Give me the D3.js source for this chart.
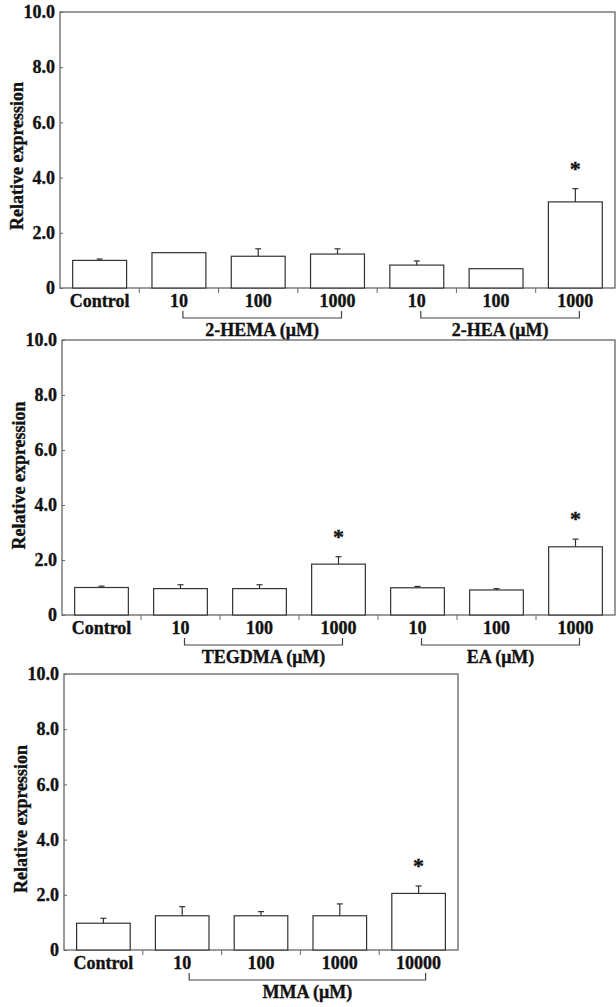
<!DOCTYPE html>
<html>
<head>
<meta charset="utf-8">
<script src="https://cdn.jsdelivr.net/npm/d3@7"></script>
<style>
  body { margin: 0; background: #fff; }
  svg text { font-family: "Liberation Serif", "DejaVu Serif", serif; font-weight: bold; fill: #111; stroke: #111; stroke-width: 0.35px; }
</style>
</head>
<body>
<svg id="chart" width="616" height="1007"></svg>
<script>
// panel 1: 2-HEMA / 2-HEA
var p1Labels = ["Control", "10", "100", "1000", "10", "100", "1000"];
var p1Means  = [1.00, 1.28, 1.15, 1.23, 0.83, 0.70, 3.12];
var p1Errors = [0.05, 0.00, 0.27, 0.19, 0.15, 0.00, 0.48];
var p1Stars  = [0, 0, 0, 0, 0, 0, 1];
var p1Groups = ["2-HEMA (μM)", "2-HEA (μM)"];
var p1GroupSpans = [[1, 3], [4, 6]];

// panel 2: TEGDMA / EA
var p2Labels = ["Control", "10", "100", "1000", "10", "100", "1000"];
var p2Means  = [1.00, 0.96, 0.96, 1.85, 0.99, 0.91, 2.48];
var p2Errors = [0.05, 0.14, 0.14, 0.27, 0.05, 0.05, 0.28];
var p2Stars  = [0, 0, 0, 1, 0, 0, 1];
var p2Groups = ["TEGDMA (μM)", "EA (μM)"];
var p2GroupSpans = [[1, 3], [4, 6]];

// panel 3: MMA
var p3Labels = ["Control", "10", "100", "1000", "10000"];
var p3Means  = [0.97, 1.24, 1.24, 1.24, 2.05];
var p3Errors = [0.18, 0.33, 0.15, 0.43, 0.27];
var p3Stars  = [0, 0, 0, 0, 1];
var p3Groups = ["MMA (μM)"];
var p3GroupSpans = [[1, 4]];

var yTicks = [0, 2, 4, 6, 8, 10];

var svg = d3.select("#chart");
var axisColor = "#666";

function drawPanel(opt) {
  var labels = opt.labels, means = opt.means, errors = opt.errors;
  var idx = d3.range(labels.length);

  var x = d3.scaleBand().domain(idx)
    .range([opt.left, opt.right])
    .paddingInner(0.32).paddingOuter(0.16);
  var y = d3.scaleLinear().domain([0, 10]).range([opt.bottom, opt.top]);

  var g = svg.append("g");

  // frame
  g.append("rect")
    .attr("x", opt.left).attr("y", opt.top)
    .attr("width", opt.right - opt.left).attr("height", opt.bottom - opt.top)
    .attr("fill", "none").attr("stroke", axisColor).attr("stroke-width", 1.3);

  // y axis
  var yAxis = d3.axisLeft(y).tickValues(yTicks)
    .tickSize(-3).tickPadding(5)
    .tickFormat(function(d) { return d === 0 ? "0" : d.toFixed(1); });
  var ya = g.append("g").attr("transform", "translate(" + opt.left + ",0)").call(yAxis);
  ya.select(".domain").remove();
  ya.selectAll("line").attr("stroke", axisColor);
  ya.selectAll("text").style("font-size", "18px").attr("fill", "#111");

  // category ticks between bands
  var step = x.step();
  var bounds = d3.range(1, labels.length);
  g.selectAll(".sep").data(bounds).enter().append("line")
    .attr("x1", function(i) { return opt.left + i * step; })
    .attr("x2", function(i) { return opt.left + i * step; })
    .attr("y1", opt.bottom).attr("y2", opt.bottom + 5)
    .attr("stroke", axisColor).attr("stroke-width", 1);

  // x labels
  g.selectAll(".xl").data(idx).enter().append("text")
    .attr("x", function(i) { return x(i) + x.bandwidth() / 2; })
    .attr("y", opt.bottom + 19)
    .attr("text-anchor", "middle")
    .style("font-size", "18px")
    .text(function(i) { return labels[i]; });

  // bars
  g.selectAll(".bar").data(idx).enter().append("rect")
    .attr("x", function(i) { return x(i); })
    .attr("y", function(i) { return y(means[i]); })
    .attr("width", x.bandwidth())
    .attr("height", function(i) { return y(0) - y(means[i]); })
    .attr("fill", "#fff").attr("stroke", "#333").attr("stroke-width", 1.2);

  // error bars
  var errIdx = idx.filter(function(i) { return errors[i] > 0; });
  var cx = function(i) { return x(i) + x.bandwidth() / 2; };
  g.selectAll(".err").data(errIdx).enter().append("line")
    .attr("x1", cx).attr("x2", cx)
    .attr("y1", function(i) { return y(means[i]); })
    .attr("y2", function(i) { return y(means[i] + errors[i]); })
    .attr("stroke", "#333").attr("stroke-width", 1.2);
  g.selectAll(".cap").data(errIdx).enter().append("line")
    .attr("x1", function(i) { return cx(i) - 3; })
    .attr("x2", function(i) { return cx(i) + 3; })
    .attr("y1", function(i) { return y(means[i] + errors[i]); })
    .attr("y2", function(i) { return y(means[i] + errors[i]); })
    .attr("stroke", "#333").attr("stroke-width", 1.2);

  // significance stars
  var starIdx = idx.filter(function(i) { return opt.stars[i]; });
  g.selectAll(".star").data(starIdx).enter().append("text")
    .attr("x", cx)
    .attr("y", function(i) { return y(means[i] + errors[i]) - 13; })
    .attr("text-anchor", "middle")
    .style("font-size", "22px")
    .text("*");

  // group brackets
  opt.spans.forEach(function(s, k) {
    var x1 = cx(s[0]) + opt.shift, x2 = cx(s[1]) + opt.shift;
    var yb = opt.bottom + 30;
    g.append("path")
      .attr("d", "M" + x1 + "," + (yb - 7) + "V" + yb + "H" + x2 + "V" + (yb - 7))
      .attr("fill", "none").attr("stroke", "#444").attr("stroke-width", 1.2);
    g.append("text")
      .attr("x", (x1 + x2) / 2)
      .attr("y", yb + 18)
      .attr("text-anchor", "middle")
      .style("font-size", "18px")
      .text(opt.groups[k]);
  });

  // y title
  g.append("text")
    .attr("transform", "translate(" + (opt.left - 37) + "," + ((opt.top + opt.bottom) / 2 + opt.titleShift) + ") rotate(-90)")
    .attr("text-anchor", "middle")
    .style("font-size", "18px")
    .text("Relative expression");
}

drawPanel({ labels: p1Labels, means: p1Means, errors: p1Errors, stars: p1Stars,
  groups: p1Groups, spans: p1GroupSpans, left: 60, right: 615, top: 12, bottom: 288, shift: 4, titleShift: 6 });
drawPanel({ labels: p2Labels, means: p2Means, errors: p2Errors, stars: p2Stars,
  groups: p2Groups, spans: p2GroupSpans, left: 62, right: 615, top: 340, bottom: 615, shift: 4, titleShift: -2 });
drawPanel({ labels: p3Labels, means: p3Means, errors: p3Errors, stars: p3Stars,
  groups: p3Groups, spans: p3GroupSpans, left: 64, right: 458, top: 674, bottom: 950, shift: 7, titleShift: 7 });
</script>
</body>
</html>
